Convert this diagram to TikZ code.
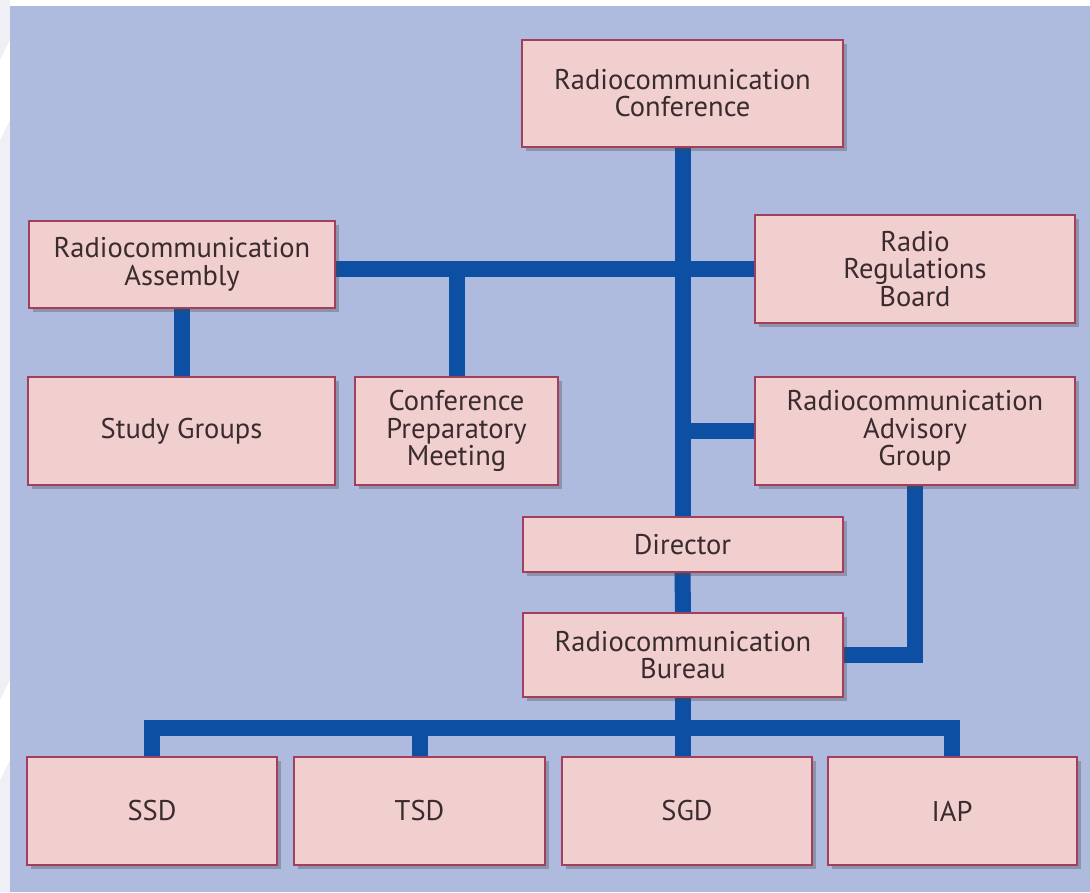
\documentclass[tikz,border=0pt]{standalone}
\usepackage{fontspec}
\setmainfont{PT Sans}
\usetikzlibrary{shadows,calc}
\definecolor{panelbg}{HTML}{AFBADF}
\definecolor{boxfill}{HTML}{F2CFCF}
\definecolor{boxedge}{HTML}{A03F5E}
\definecolor{linkblue}{HTML}{0D4FA2}
\definecolor{txt}{HTML}{3A2C2E}
\definecolor{margin}{HTML}{EEF0F6}
\pgfdeclarelayer{panel}
\pgfdeclarelayer{links}
\pgfsetlayers{panel,links,main}
\tikzset{
  orgbox/.style={draw=boxedge, line width=2pt, fill=boxfill, align=center,
    text=txt, font=\fontsize{28.5}{27.5}\selectfont, inner sep=0pt,
    drop shadow={shadow xshift=4pt, shadow yshift=-4pt, opacity=0.35, fill=black!70}},
  link/.style={draw=linkblue, line width=16pt, line join=miter, line cap=butt}
}
\begin{document}
\begin{tikzpicture}[x=1pt,y=-1pt]
\begin{pgfonlayer}{panel}
\fill[white] (0,0) rectangle (1090,892);
\fill[margin] (0,0) rectangle (10,892);
\fill[white] (0,60) -- (10,40) -- (10,120) -- (0,140) -- cycle;
\fill[white] (0,700) -- (10,680) -- (10,760) -- (0,780) -- cycle;
\fill[panelbg] (10,6) rectangle (1090,892);
\end{pgfonlayer}
\useasboundingbox (0,0) rectangle (1090,892);

\node[orgbox, minimum width=321pt, minimum height=107pt] (conf) at (682.5,93) {Radiocommunication\\Conference};
\node[orgbox, minimum width=306pt, minimum height=87pt] (asm) at (182,264.5) {Radiocommunication\\Assembly};
\node[orgbox, minimum width=320pt, minimum height=108pt] (rrb) at (915,269) {Radio\\Regulations\\Board};
\node[orgbox, minimum width=307pt, minimum height=108pt] (sg) at (181.5,431) {Study Groups};
\node[orgbox, minimum width=203pt, minimum height=108pt] (cpm) at (456.5,431) {Conference\\Preparatory\\Meeting};
\node[orgbox, minimum width=320pt, minimum height=108pt] (rag) at (915,431) {Radiocommunication\\Advisory\\Group};
\node[orgbox, minimum width=320pt, minimum height=55pt] (dir) at (682.5,544.5) {Director};
\node[orgbox, minimum width=320pt, minimum height=84pt] (bur) at (683,655) {Radiocommunication\\Bureau};
\node[orgbox, minimum width=250pt, minimum height=108pt] (ssd) at (152,811) {SSD};
\node[orgbox, minimum width=251pt, minimum height=108pt] (tsd) at (419.5,811) {TSD};
\node[orgbox, minimum width=250pt, minimum height=108pt] (sgd) at (687,811) {SGD};
\node[orgbox, minimum width=249pt, minimum height=108pt] (iap) at (952,811) {IAP};
\coordinate (bus) at (0,728);

\begin{pgfonlayer}{links}
\draw[link] (conf.south) -- (dir.north);
\draw[link] (asm.east |- rrb.west) -- (rrb.west);
\draw[link] (cpm.north) -- (cpm.north |- rrb.west);
\draw[link] (asm.south) -- (asm.south |- sg.north);
\draw[link] (rag.west) -- (rag.west -| conf.south);
\draw[link] (dir.south) -- (bur.north);
\draw[link] (rag.south) -- (rag.south |- bur.east) -- (bur.east);
\draw[link] (bur.south) -- (bur.south |- sgd.north);
\draw[link] (ssd.north) -- (ssd.north |- bus) -- (iap.north |- bus) -- (iap.north);
\draw[link] (tsd.north) -- (tsd.north |- bus);
\end{pgfonlayer}
\end{tikzpicture}
\end{document}
